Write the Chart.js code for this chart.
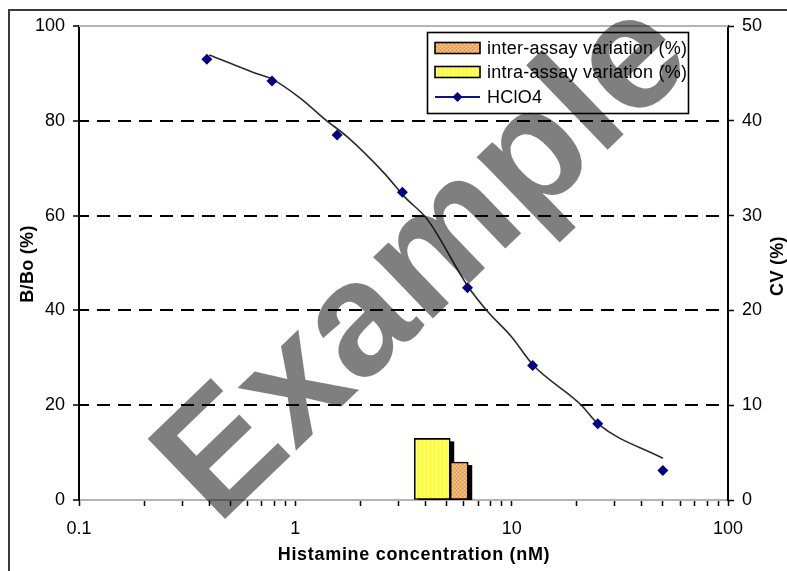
<!DOCTYPE html>
<html>
<head>
<meta charset="utf-8">
<script src="https://cdn.jsdelivr.net/npm/chart.js@4.4.1/dist/chart.umd.min.js"></script>
<style>
  html, body { margin: 0; padding: 0; background: #fff; }
  canvas { display: block; }
</style>
</head>
<body>
<canvas id="chart" width="787" height="571"></canvas>
<script>
// Standards: histamine concentration (nM) and binding ratio B/Bo (%)
const concentrations = [0.39, 0.78, 1.56, 3.125, 6.25, 12.5, 25, 50];
const bBo = [93.0, 88.4, 77.0, 64.9, 44.8, 28.4, 16.1, 6.2];

// Fitted standard curve
const fitConcentrations = [0.4, 0.64, 0.78, 1.06, 1.38, 1.74, 2.58, 3.19, 4.09, 6.25, 7.76, 9.96, 12.5, 21, 25, 50];
const fitBBo = [93.9, 90.2, 88.8, 84.7, 80.2, 76.6, 68.9, 64.0, 59.1, 45.2, 39.7, 34.5, 28.6, 20.0, 16.1, 8.8];

// Assay precision, CV (%), plotted at the mid-range concentration
const cvConcentration = [5.2];
const intraAssayCV = [6.5];
const interAssayCV = [4.0];

// Axis ticks
const xMajorTicks = [0.1, 1, 10, 100];
const xTickLabels = ['0.1', '1', '10', '100'];

const FONT = '"Liberation Sans", Arial, Helvetica, sans-serif';

function makePattern(w, h, base, dots) {
  const c = document.createElement('canvas');
  c.width = w; c.height = h;
  const g = c.getContext('2d');
  g.fillStyle = base;
  g.fillRect(0, 0, w, h);
  dots.forEach(([x, y, col]) => { g.fillStyle = col; g.fillRect(x, y, 1, 1); });
  return g.createPattern(c, 'repeat');
}

const yellowFill = makePattern(4, 4, '#ffff3a', [
  [0, 0, '#ffffb4'], [0, 2, '#ffffb4'], [0, 1, '#ffff90'], [0, 3, '#ffff90'], [2, 1, '#f4f420']
]);
const orangeFill = makePattern(4, 4, '#f6aa62', [
  [0, 0, '#fddcb6'], [2, 2, '#fddcb6'], [2, 0, '#ee9448'], [0, 2, '#ee9448']
]);

const xTickValues = [];
for (let i = 0; i < xMajorTicks.length - 1; i++) {
  xTickValues.push(xMajorTicks[i]);
  for (let m = 2; m <= 9; m++) xTickValues.push(xMajorTicks[i] * m);
}
xTickValues.push(xMajorTicks[xMajorTicks.length - 1]);

const toPoints = (xs, ys) => xs.map((x, i) => ({ x, y: ys[i] }));

// Drop shadow behind the CV bars
const barShadow = {
  id: 'barShadow',
  beforeDatasetsDraw(chart) {
    const ctx = chart.ctx;
    const area = chart.chartArea;
    ctx.save();
    ctx.beginPath();
    ctx.rect(area.left, area.top, area.right - area.left, area.bottom - area.top);
    ctx.clip();
    ctx.fillStyle = '#000';
    chart.data.datasets.forEach((ds, i) => {
      if (ds.type !== 'bar') return;
      chart.getDatasetMeta(i).data.forEach(el => {
        const { x, y, base, width } = el.getProps(['x', 'y', 'base', 'width'], true);
        ctx.fillRect(x - width / 2 + 4, y + 3, width, base - y);
      });
    });
    ctx.restore();
  }
};

// Frame, top edge, axis titles, legend and watermark
const decorations = {
  id: 'decorations',
  afterDraw(chart) {
    const ctx = chart.ctx;
    const area = chart.chartArea;

    ctx.save();
    // top edge of the plot
    ctx.strokeStyle = '#b4b4b4';
    ctx.lineWidth = 2;
    ctx.beginPath();
    ctx.moveTo(area.left, area.top);
    ctx.lineTo(area.right, area.top);
    ctx.stroke();

    // outer frame
    ctx.strokeStyle = '#3a3a3a';
    ctx.lineWidth = 2;
    ctx.strokeRect(9, 10, 900, 900);

    // axis titles
    ctx.fillStyle = '#000';
    ctx.font = 'bold 18px ' + FONT;
    ctx.textAlign = 'center';
    ctx.textBaseline = 'middle';
    ctx.letterSpacing = '0.7px';
    ctx.fillText('Histamine concentration (nM)', 414, 555);
    ctx.letterSpacing = '0.3px';
    ctx.save();
    ctx.translate(28, 264);
    ctx.rotate(-Math.PI / 2);
    ctx.fillText('B/Bo (%)', 0, 0);
    ctx.restore();
    ctx.save();
    ctx.translate(778, 266);
    ctx.rotate(-Math.PI / 2);
    ctx.fillText('CV (%)', 0, 0);
    ctx.restore();

    // legend
    const lx = 427, ly = 32, lw = 261, lh = 81;
    ctx.fillStyle = '#fff';
    ctx.fillRect(lx, ly, lw, lh);
    ctx.strokeStyle = '#000';
    ctx.lineWidth = 1.6;
    ctx.strokeRect(lx + 0.5, ly + 0.5, lw, lh);

    const inter = chart.data.datasets[3];
    const intra = chart.data.datasets[2];
    const pts = chart.data.datasets[0];
    const rows = [
      { ds: inter, y: 48, kind: 'box' },
      { ds: intra, y: 72, kind: 'box' },
      { ds: pts, y: 97, kind: 'line' }
    ];
    ctx.font = '18px ' + FONT;
    ctx.textAlign = 'left';
    ctx.letterSpacing = '0.25px';
    rows.forEach(r => {
      if (r.kind === 'box') {
        ctx.fillStyle = r.ds.backgroundColor;
        ctx.fillRect(435, r.y - 5.5, 45, 11);
        ctx.strokeStyle = '#000';
        ctx.lineWidth = 1.6;
        ctx.strokeRect(435, r.y - 5.5, 45, 11);
      } else {
        ctx.strokeStyle = r.ds.borderColor;
        ctx.lineWidth = 2;
        ctx.beginPath();
        ctx.moveTo(435, r.y);
        ctx.lineTo(480, r.y);
        ctx.stroke();
        ctx.fillStyle = r.ds.pointBackgroundColor;
        ctx.beginPath();
        ctx.moveTo(457.5, r.y - 5);
        ctx.lineTo(462.5, r.y);
        ctx.lineTo(457.5, r.y + 5);
        ctx.lineTo(452.5, r.y);
        ctx.closePath();
        ctx.fill();
      }
      ctx.fillStyle = '#000';
      ctx.fillText(r.ds.label, 487, r.y + 1);
    });
    ctx.letterSpacing = '0px';

    // watermark
    ctx.translate(457, 295);
    ctx.rotate(-44 * Math.PI / 180);
    ctx.font = 'bold 162px ' + FONT;
    ctx.textAlign = 'center';
    ctx.textBaseline = 'alphabetic';
    ctx.fillStyle = 'rgba(0,0,0,0.5)';
    ctx.fillText('Example', 0, 0);
    ctx.restore();
  }
};

const gridColor = ctx => {
  const v = ctx.tick && ctx.tick.value;
  return (v === 0 || v === 100) ? 'rgba(0,0,0,0)' : '#000';
};

new Chart(document.getElementById('chart'), {
  type: 'bar',
  data: {
    datasets: [
      {
        type: 'line',
        label: 'HClO4',
        data: toPoints(concentrations, bBo),
        showLine: false,
        borderColor: '#10108a',
        pointStyle: 'rectRot',
        pointRadius: 5.5,
        pointBackgroundColor: '#000080',
        pointBorderColor: '#000080',
        pointBorderWidth: 0,
        yAxisID: 'y'
      },
      {
        type: 'line',
        label: 'fit',
        data: toPoints(fitConcentrations, fitBBo),
        borderColor: '#2a2a2a',
        borderWidth: 1.6,
        pointRadius: 0,
        tension: 0.4,
        cubicInterpolationMode: 'monotone',
        fill: false,
        yAxisID: 'y'
      },
      {
        type: 'bar',
        label: 'intra-assay variation (%)',
        data: toPoints(cvConcentration, intraAssayCV),
        backgroundColor: yellowFill,
        borderColor: '#000',
        borderWidth: 1.6,
        borderSkipped: false,
        barThickness: 36,
        yAxisID: 'y2'
      },
      {
        type: 'bar',
        label: 'inter-assay variation (%)',
        data: toPoints(cvConcentration, interAssayCV),
        backgroundColor: orangeFill,
        borderColor: '#000',
        borderWidth: 1.6,
        borderSkipped: false,
        barThickness: 18,
        yAxisID: 'y2'
      }
    ]
  },
  options: {
    responsive: false,
    animation: false,
    devicePixelRatio: 1,
    layout: { padding: { top: 26, left: 0, right: 0, bottom: 0 } },
    plugins: { legend: { display: false }, tooltip: { enabled: false } },
    scales: {
      x: {
        type: 'logarithmic',
        position: 'bottom',
        min: 0.1,
        max: 100,
        offset: false,
        afterBuildTicks: s => { s.ticks = xTickValues.map(v => ({ value: v })); },
        afterFit: s => { s.height = 71; },
        grid: { offset: false, drawOnChartArea: false, drawTicks: true, tickLength: 6, tickColor: '#000', tickWidth: 1.5 },
        border: { color: '#b4b4b4', width: 2 },
        ticks: {
          autoSkip: false, maxRotation: 0, padding: 12,
          color: '#000', font: { family: FONT, size: 18 },
          callback: v => { const i = xMajorTicks.indexOf(v); return i >= 0 ? xTickLabels[i] : ''; }
        }
      },
      y: {
        type: 'linear',
        position: 'left',
        min: 0, max: 100,
        afterFit: s => { s.width = 79; },
        grid: { color: gridColor, lineWidth: 2, drawTicks: true, tickLength: 6, tickColor: '#000', tickWidth: 1.5 },
        border: { color: '#000', width: 2, dash: [13, 8], dashOffset: 4 },
        ticks: { stepSize: 20, padding: 8, color: '#000', font: { family: FONT, size: 18 } }
      },
      y2: {
        type: 'linear',
        position: 'right',
        min: 0, max: 50,
        afterFit: s => { s.width = 59; },
        grid: { drawOnChartArea: false, drawTicks: true, tickLength: 6, tickColor: '#000', tickWidth: 1.5 },
        border: { color: '#000', width: 2 },
        ticks: { stepSize: 10, padding: 8, color: '#000', font: { family: FONT, size: 18 } }
      }
    }
  },
  plugins: [barShadow, decorations]
});
</script>
</body>
</html>
